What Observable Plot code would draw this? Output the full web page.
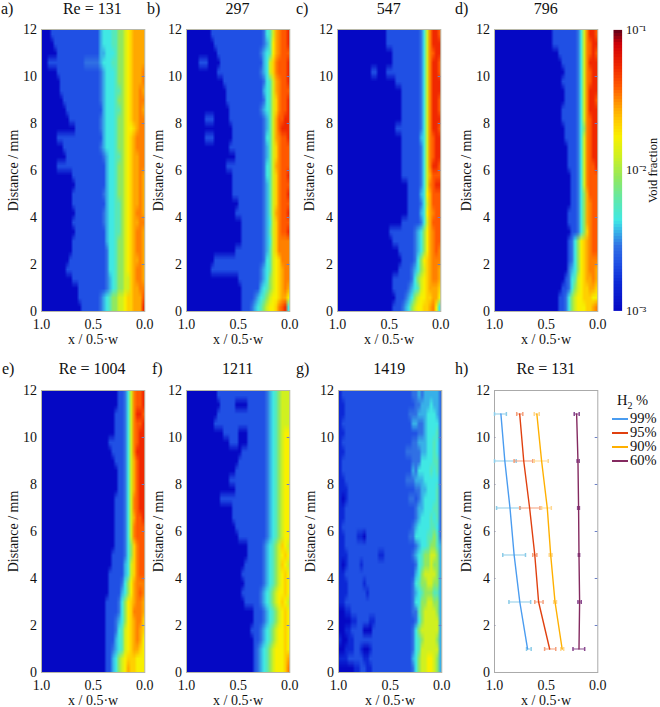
<!DOCTYPE html>
<html><head><meta charset="utf-8">
<script src="https://cdn.jsdelivr.net/npm/d3@7"></script>
<script src="https://cdn.jsdelivr.net/npm/@observablehq/plot@0.6"></script>
<style>
html,body{margin:0;padding:0;background:#fff}
#page{position:relative;width:660px;height:707px;overflow:hidden;font-family:"Liberation Serif",serif;color:#111}
#page svg{position:absolute;overflow:visible}
.t{position:absolute;font-size:16px;line-height:18px;white-space:nowrap}
.c{transform:translateX(-50%)}
.leg{font-size:14.5px}
.swatch{position:absolute;height:2px}
sub{font-size:10px;line-height:0}
</style></head><body><div id="page"></div>
<script>
// Void fraction levels and their colour-bar colours; grid rows hold one level character per cell
const levelKeys = "0123456789abcdefg";
const voidLevels = [.001,.00158,.00219,.00288,.00363,.00437,.00575,.00871,.0126,.01738,.02188,.02754,.0331,.0398,.055,.0794,.1];
const levelColors = ["#0508c4","#0c28d6","#2050e4","#3070e4","#38b0e8","#40e8e4","#58e8b8","#90e860","#d0f020","#f8f000","#ffd000","#ffa800","#ff8000","#ff5800","#f02800","#d00008","#600018"];
const reA = ["0002222222222222222455566778 9abbbb","0000222222222222222455566778 9abbbb","0000022222222222222445556778 9abbbb","0000222222222222333334555667789abbbb","0000022222222222222345556778 9abbbc","0000002222222222222345556778 9abbbc","0000002222222222222345556678 9abbcb","0000000222222222222345556778 9abbcc","0000000022222222222245556678 9abbcb","0000000002222222222345556778 9abbcc","0000000000022222222345556778 99abcc","0000022222222222222245556778 9abccc","0000000222222222222345556778 9abccc","0000000022222222222234556678 9abbcc","0000022222222222222224556778 9abbcc","0000000000222222222224556778 9abbcb","0000000000022222222224556778 9abbcb","0000000000222222222234556778 9abbcb","0000000000222222222224556678 9abbcb","0000000000022222222234556678 9abccb","0000000000222222222234556678 9abbcc","0000000000022222222224556678 9abccb","0000000000222222222224556778 9abccb","0000000000222222222223556778 9abccb","0000000002222222222223556778 9abbcb","0000000022222222222223556778 9abccb","0000000000222222222223456778 8abccb","0000000000002222222223456778 8abbcc","00000000000002222222345677889aabbbd","0000000000000022222234567 7889aabbbe"];
const reB = ["00000000222222222222222223568bcdde","00000000022222222222222223469bcdde","00000000002222222222222234569bcddd","0000222000022222222222222458acddde","0000000000222222222222223458acddde","00000000000022222222222223568bcdde","00000000000002222222222224568bcddd","00000000000002222222222223568acdde","00000000000000222222222234568acdde","00000022200000222222222223468bddee","0000000000000022222222223468bdeee","00000022200000022222222223568bcdde","00000000000000222222222223468acddd","0000000000000002222222223468acddd","00000000000002222222222223568bcddd","00000000000000022222222223568acdde","0000000000000022222222223468acddd","00000000000000022222222223468acdde","0000000000000000222222223468acddd","00000000000000002222222223468bcdde","000000000000000002222222 3458acddd","0000000000000000022222223468acdde","0000000000000000002222222 3458acccc","0000000000000002222222223468acccc","00000000222222222222222235689accc","00000002222222222222222345689abcc","00000000000000002222222345789abcc","00000000000000000222222456789abcb","000000000000000000222234567899abb9","00000000000000000022234567899acde5"];
const reC = ["0000000000000000222222222223 58ceed","0000000000000000222222222223 58ceee","00000000000000000222222222 3 58cdee","00000000000000000222222222 3 58ceed","000000000002200022222222222 3 58ceed","00000000000000000022222222 3 58ceee","00000000000000000000222222 3 58ceee","00000000000000000000222222 3 58ceed","000000000000000000000222222 3 58ceed","00000000000000000000222222 3 58ceee","000000000000000000022222222 3 58ceed","00000000000000000000222222 4 58cdee","000000000000000000000222222 3 58cdee","00000000000000000000222222 3 58cdee","00000000000000000000222222 3 58ceed","000000000000000000000222222 3 58bddd","00000000000000000000002222 3 58cdee","00000000000000000000002222 4 59bddd","000000000000000000000002222 3 58bddd","00000000000000000000002222 4 59bcdd","0000000000000000000002222223 58bddd","0000000000000000002222222234 579bcdd","0000000000000000000222222234 579bcdd","00000000000000000000222223 4 579bcdc","000000000000000000000222235 79abccc","0000000000000000000022223 4 578abccb","0000000000000000002222223 5 789abccb","0000000000000000002222234 5689abbba","00000000000000000002223 4 578 99aabb9","00000000000000000022234 578 99aabc95"];
const reD = ["0000000000000000000222222223 58ceed","0000000000000000000222222223 58cdee","00000000000000000000222222 3 58cded","00000000000000000000022222 3 58ceee","00000000000000000000002222 3 58cdee","0000000000000000000002222 2 3 58cdee","00000000000000000000002222 3 58ceee","00000000000000000000002222 3 58ceed","00000000000000000000022222 3 58ceee","00000000000000000000022222 3 58cdee","00000000000000000000002222 3 57cdee","00000000000000000000002222 3 58cdee","00000000000000000000000222 3 58cdee","00000000000000000000000222 3 58cdee","00000000000000000000000222 3 58cdde","00000000000000000000000022 3 58cddd","00000000000000000000000022 3 58cddd","00000000000000000000000022 3 57bddd","00000000000000000000000022 3 57bcdd","00000000000000000000000222 3 57bcdd","00000000000000000000000222 3 57bcdd","00000000000000000000000022 3 57acdd","0000000000000000000000002 3 579abcdd","0000000000000000000000002 3 579abcdd","0000000000000000000000002 3 579abccc","0000000000000000000000003 4 579abccb","000000000000000000000002 3 5 689abbcb","00000000000000000000002 2 3 5 789aabba","0000000000000000000002 2 3 5789 9aaa99","0000000000000000000002 2 3 5789 99aabc"];
const reE = ["0000000000000000000000000 22 358cdde","0000000000000000000000000 22 358cdde","000000000000000000000000 222 358ceed","000000000000000000000000 222 358cdde","000000000000000000000000 222 358cdee","0000000000000000000000 22222 358cdee","00000000000000000000000 2222 358ceee","000000000000000000000000 222 358bdee","0000000000000000000000000 22 358bdee","0000000000000000000000000 22 358bdee","0000000000000000000000000 22 358bdee","000000000000000000000000 222 358cdee","000000000000000000000000 222 358cdee","000000000000000000000000 222 358bdde","000000000000000000000000 222 358cddd","000000000000000000000000 222 358cddd","000000000000000000000000 222 3 57acdd","00000000000000000000000 2222 3 57acdd","00000000000000000000000 2222 4 58acdd","0000000000000000000000 22222 4 58acdd","0000000000000000000000 2222 3 579bccc","0000000000000000000000 2222 4 579bcdc","000000000000000000000 2222 3 579abccb","000000000000000000000 2222 3 579acccb","000000000000000000000 222 3 4 579abcca","000000000000000000000 222 3 5689abcba","000000000000000000000 222 4 5689abcb9","000000000000000000000 22 3 4 5689abba9","000000000000000000000 22 4 5789aaa999","000000000000000000000 22 4 5789baa999"];
const reF = ["0000000000222222222222222234567888","0000000000022222000022222234567888","0000000000222222222222222234567888","0000000002222222222222222234567888","0000000000002222200022222234567899","0000000000000022200022222234567899","0000000000000000002222222234567899","0000000000000000022222222234567899","0000000000000000222222222234567899","0000000000000022222222222234567899","0000000000000000222222222234567899","0000000000022222222222222234567899","0000000000000002222222222234567899","0000000000000002222222222234567899","0000000000000000222222222234567899","0000000000000000022222222234567899","0000000000000000000022222345678a98","00000000000000000000222223456789a9","0000000000000000000222222345678a98","00000000000000000022222223456789a9","0000000000000000002222223456789a9","0000000000000000022222234567899a9","00000000000000000022222345678 9a98","0000000000000000000002223456789a9","0000000000000000000002223456789a9","00000000000000000000022234567899a9","0000000000000000000002234567899a9","0000000000000000000002345678999a9","0000000000000000000002345678999ab","0000000000000000000002345678999ac"];
const reG = ["1222222222222222222222223343444443","1122222222222222222222222334445443","1122222222222222222222233344455543","1222222222222222222222224433455553","1122222222222222222222222233455563","1222222222222222222222223344455653","1122222222222222222222333334455653","1222222222222222222222223335555663","1222222222222222222222224355556563","1122222222222222222222333444555553","1112222222222222222222222334455563","1012222222222222222222233234555563","1122222222222222222222222344555663","1122222222222222222222222345556563","1222222222222222222222223455556653","1122221102222222222222233555566763","1122222222222222222222222345567764","1112222222222112222222223456778874","1012222122222222222222222356778774","1122222222222222222222222457888874","1112222212222222222222223567788774","1112222221222222222222223456777664","1122222222222222222222223557788774","0011222222222222222222223367888874","0000112222112222222222222357888884","0011222200022222222222223578888884","1001122222222222222222223567888874","0011122100122222222222223568888884","1112222211222222222222224578899874","0000011221122222222222223578899874"];
const heatPanels = [reA, reB, reC, reD, reE, reF, reG];
const gridCols = 34;
const panelLefts = [40.7, 185.8, 337, 494, 40.5, 186, 337.7];
const panelTops = [29.4, 29.4, 29.4, 29.4, 389.5, 389.5, 389.5];
const panelTitles = ["Re = 131", "297", "547", "796", "Re = 1004", "1211", "1419", "Re = 131"];
const panelTags = ["a)", "b)", "c)", "d)", "e)", "f)", "g)", "h)"];
const tagLefts = [1, 147, 296, 455, 2, 152, 296, 455];
const yTicks = [0, 2, 4, 6, 8, 10, 12];
const xTicks = [1, 0.5, 0];
const distances = [11, 9, 7, 5, 3, 1];
const seriesNames = ["99%", "95%", "90%", "60%"];
const lineColors = ["#4a9cf0", "#e0400f", "#ffb000", "#842a60"];
const barColors = ["#8ccce8", "#f4a07c", "#ffd890", "#8a4a90"];
const mean99 = [.938, .90, .85, .81, .755, .68];
const lo99 = [.885, .79, .75, .70, .65, .645];
const hi99 = [1.0, 1.0, .98, .92, .86, .69];
const mean95 = [.756, .717, .66, .61, .573, .466];
const lo95 = [.726, .63, .56, .59, .53, .407];
const hi95 = [.785, .81, .756, .63, .61, .515];
const mean90 = [.59, .544, .489, .456, .414, .345];
const lo90 = [.567, .48, .45, .443, .40, .33];
const hi90 = [.615, .615, .544, .47, .427, .358];
const mean60 = [.205, .192, .186, .182, .176, .182];
const lo60 = [.18, .18, .178, .176, .16, .127];
const hi60 = [.228, .2, .195, .188, .192, .24];
const seriesMean = [mean99, mean95, mean90, mean60];
const seriesLo = [lo99, lo95, lo90, lo60];
const seriesHi = [hi99, hi95, hi90, hi60];
const legendTicks = [.001, .01, .1];
const legendLabels = ["10⁻³", "10⁻²", "10⁻¹"];

const page = document.getElementById("page");
const frameW = 103.3, frameH = 282;
const margin = {marginLeft: 42, marginRight: 18, marginTop: 2, marginBottom: 36};
const font = {background: "transparent", fontFamily: "'Liberation Serif',serif", fontSize: "14px", color: "#111"};
const colorScale = {type: "log", domain: voidLevels, range: levelColors};

function place(svg, left, top) {
  svg.style.left = (left - margin.marginLeft) + "px";
  svg.style.top = (top - margin.marginTop) + "px";
  page.appendChild(svg);
}
function axes() {
  return [
    Plot.axisX(xTicks, {tickSize: 0, tickPadding: 8, tickFormat: ".1f", fontSize: 14, label: "x / 0.5·w", labelAnchor: "center", labelArrow: "none", labelOffset: 33}),
    Plot.axisY(yTicks, {tickSize: 0, tickPadding: 4.5, fontSize: 14, label: "Distance / mm", labelAnchor: "center", labelArrow: "none", labelOffset: 33.5}),
    Plot.ruleY(yTicks.slice(1, -1), {x1: d => 0.025, x2: 0, stroke: "#6a80c8"})
  ];
}
function base(marks) {
  return Plot.plot({
    ...margin, width: frameW + margin.marginLeft + margin.marginRight, height: frameH + margin.marginTop + margin.marginBottom,
    style: font, x: {domain: [1, 0]}, y: {domain: [0, 12]}, color: colorScale, marks
  });
}
heatPanels.forEach((rows, i) => {
  const grid = rows.map(r => r.replace(/ /g, "").slice(-gridCols).padStart(gridCols, r[0]));
  const values = grid.flatMap(r => Array.from(r, c => voidLevels[levelKeys.indexOf(c)]));
  const svg = base([
    Plot.raster(values, {width: gridCols, height: grid.length, x1: 1, x2: 0, y1: 12, y2: 0, fill: d => d, imageRendering: "auto"}),
    Plot.frame({stroke: "#b8b8a8"}),
    ...axes()
  ]);
  place(svg, panelLefts[i], panelTops[i]);
});
// Panel h
const hMarks = [];
seriesNames.forEach((name, s) => {
  const rowsH = distances.map((d, i) => ({d, m: seriesMean[s][i], lo: seriesLo[s][i], hi: seriesHi[s][i]}));
  const cap = {draw(c, r) { c.moveTo(0, -2); c.lineTo(0, 2); }};
  hMarks.push(
    Plot.ruleY(rowsH, {y: "d", x1: "lo", x2: "hi", stroke: barColors[s], strokeWidth: 1}),
    Plot.dot(rowsH, {x: "lo", y: "d", symbol: cap, r: 2, stroke: barColors[s]}),
    Plot.dot(rowsH, {x: "hi", y: "d", symbol: cap, r: 2, stroke: barColors[s]}),
    Plot.line(rowsH, {x: "m", y: "d", stroke: lineColors[s], strokeWidth: 1.4})
  );
});
const hSvg = base([
  Plot.frame({stroke: "#aaa"}),
  Plot.ruleY(yTicks.slice(1, -1), {x1: d => 1, x2: d => 0.985, stroke: "#99a"}),
  ...hMarks,
  ...axes()
]);
place(hSvg, 494.3, 389.5);

// Colour bar
const bar = Plot.plot({
  width: 70, height: 283, marginLeft: 0, marginRight: 61.4, marginTop: 0.4, marginBottom: 1.6,
  style: font,
  x: {domain: [0, 1], axis: null},
  y: {type: "log", domain: [.001, .1], axis: null},
  color: colorScale,
  marks: [
    Plot.raster({fill: (x, y) => y, x1: 0, x2: 1, y1: .1, y2: .001, pixelSize: 3, imageRendering: "pixelated"}),
    Plot.axisY(legendTicks, {anchor: "right", tickSize: 0, tickPadding: 4, fontSize: 12.5, tickFormat: d => legendLabels[legendTicks.indexOf(d)], label: "Void fraction", labelAnchor: "center", labelArrow: "none", labelOffset: 34.5})
  ]
});
bar.style.left = "612.7px";
bar.style.top = "29px";
page.appendChild(bar);

// HTML labels
function label(html, left, top, cls) {
  const el = document.createElement("div");
  el.className = "t " + (cls || "");
  el.innerHTML = html;
  el.style.left = left + "px";
  el.style.top = top + "px";
  page.appendChild(el);
  return el;
}
const titleLefts = [...panelLefts, 494.3];
panelTitles.forEach((t, i) => {
  const top = i < 4 ? 0 : 360;
  label(t, titleLefts[i] + frameW / 2, top, "c");
  label(panelTags[i], tagLefts[i], top, "");
});
label("H<sub>2</sub> %", 632.5, 391, "c leg");
seriesNames.forEach((n, s) => {
  const y = 418 + s * 14;
  const sw = document.createElement("div");
  sw.className = "swatch";
  sw.style.cssText = `left:612px;top:${y}px;width:16px;background:${lineColors[s]}`;
  page.appendChild(sw);
  label(n, 630, y - 9, "leg");
});
</script></body></html>
